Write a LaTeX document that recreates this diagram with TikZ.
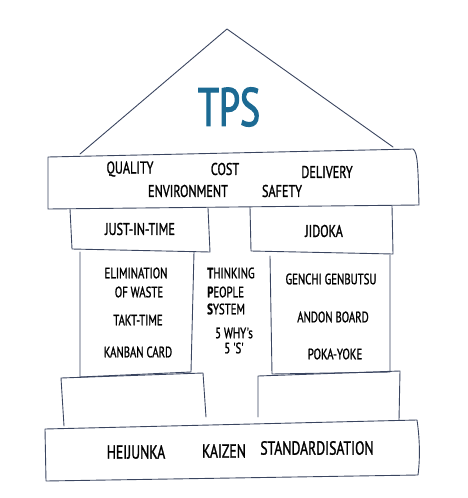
\documentclass[tikz,border=0pt]{standalone}
\usepackage{fontspec}
\newfontfamily\hand[FakeStretch=0.72,FakeBold=1.2]{PT Sans}
\newfontfamily\tpsfont[FakeStretch=0.7,FakeBold=2]{PT Sans}
\definecolor{linec}{HTML}{3A4560}
\definecolor{tpsc}{HTML}{1C6A93}
\begin{document}
\begin{tikzpicture}[x=1pt,y=-1pt,
  ln/.style={draw=linec, line width=0.9pt, line join=round, line cap=round},
  lbl/.style={font=\hand\fontsize{17}{17}\selectfont, inner sep=0pt, text=black},
  sml/.style={font=\hand\fontsize{15}{15}\selectfont, inner sep=0pt, text=black},
  big/.style={font=\hand\fontsize{19}{19}\selectfont, inner sep=0pt, text=black}]
\useasboundingbox (0,0) rectangle (467,498);
% roof
\draw[ln] (80,154) -- (227,29) -- (393,147);
% beam
\draw[ln] (48,157) -- (413,149) .. controls (418,152) and (418,170) .. (419,205) -- (48,209) -- cycle;
% upper blocks
\draw[ln] (70,209) -- (72,249) -- (210,252) -- (208,208);
\draw[ln] (250,207) -- (251,251) -- (393,254) -- (392,206);
% middle blocks
\draw[ln] (80,252) -- (80,377) -- (191,372) -- (194,252);
\draw[ln] (270,256) -- (272,374) -- (390,372) -- (390,255);
% lower blocks
\draw[ln] (64,426) -- (61,378) -- (203,373) -- (206,417);
\draw[ln] (258,417) -- (258,376) -- (400,371) -- (399,420);
% base
\draw[ln] (45,429) -- (417,420) .. controls (420,440) and (420,460) .. (418,475) -- (46,481) -- cycle;
% texts
\node[font=\tpsfont\fontsize{54}{54}\selectfont, text=tpsc, inner sep=0pt] (tps) at (229,107) {TPS};
\node[lbl] (q) at (130,169) {QUALITY};
\node[lbl] (c) at (225,169) {COST};
\node[lbl] (d) at (327,172) {DELIVERY};
\node[lbl] (e) at (188,191) {ENVIRONMENT};
\node[lbl] (s) at (282,191) {SAFETY};
\node[lbl] (jit) at (140,229) {JUST-IN-TIME};
\node[lbl] (jid) at (324,231) {JIDOKA};
\node[sml] (el) at (136,273) {ELIMINATION};
\node[sml] (ow) at (139,292) {OF WASTE};
\node[sml] (tt) at (138,320) {TAKT-TIME};
\node[sml] (kc) at (138,352) {KANBAN CARD};
\node[sml] (gg) at (331,279) {GENCHI GENBUTSU};
\node[sml] (ab) at (333,317) {ANDON BOARD};
\node[sml] (py) at (335,354) {POKA-YOKE};
\node[sml, anchor=west] (th) at (207,273) {\textbf{T}HINKING};
\node[sml, anchor=west] (pe) at (207,292) {\textbf{P}EOPLE};
\node[sml, anchor=west] (sy) at (207,309) {\textbf{S}YSTEM};
\node[sml] (wh) at (234,333) {5 WHY's};
\node[sml] (ss) at (234,348) {5 'S'};
\node[big] (hj) at (136,452) {HEIJUNKA};
\node[big] (kz) at (224,451) {KAIZEN};
\node[big] (st) at (317,448) {STANDARDISATION};
\end{tikzpicture}
\end{document}
